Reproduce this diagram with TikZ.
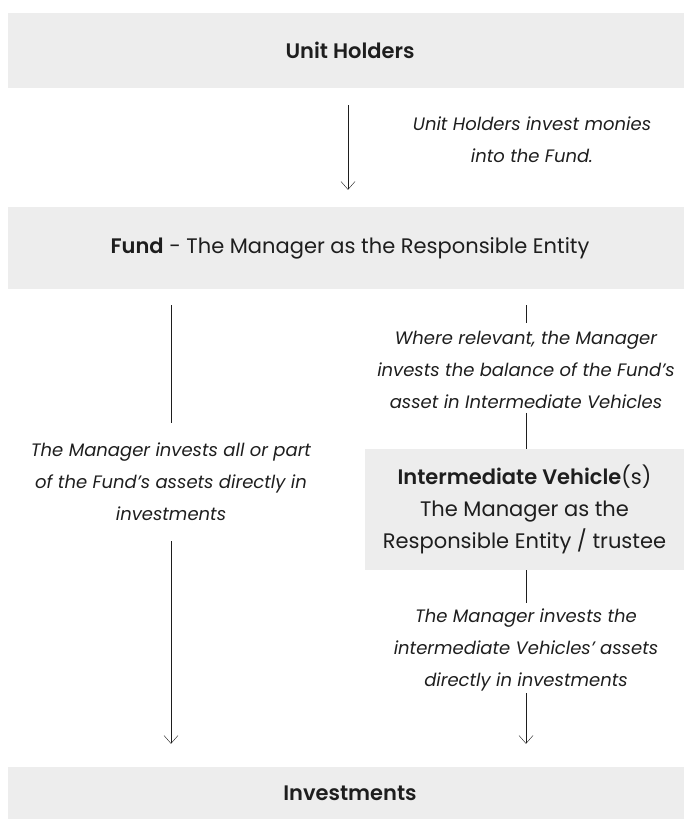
\documentclass[tikz,border=0pt]{standalone}
\usepackage{fontspec}
\setmainfont{Poppins}[BoldFont={Poppins SemiBold}]
\usetikzlibrary{arrows.meta}
\definecolor{boxgray}{HTML}{EDEDED}
\definecolor{ink}{HTML}{1E1E1E}

\begin{document}
\begin{tikzpicture}[x=1pt, y=-1pt, thin, draw=ink, text=ink,
  main/.style = {fill=boxgray, inner sep=0pt, align=center, font=\fontsize{21}{32}\selectfont},
  note/.style = {align=center, inner sep=0pt, font=\fontsize{18}{32}\selectfont\itshape},
  arr/.style = {-{Straight Barb[length=8pt,width=14pt]}}]
\useasboundingbox (0,0) rectangle (684,819);
\node[main, minimum width=684, minimum height=75] (1) at (350,50.5) {\textbf{Unit Holders}};
\node[main, minimum width=684, minimum height=82] (2) at (350,248) {\textbf{Fund} - The Manager as the Responsible Entity};
\node[note] (n1) at (532,140) {Unit Holders invest monies\\into the Fund.};
\node[note] (3) at (526,370) {Where relevant, the Manager\\invests the balance of the Fund's\\asset in Intermediate Vehicles};
\node[note] (4) at (171,482) {The Manager invests all or part\\of the Fund's assets directly in\\investments};
\node[main, minimum width=319, minimum height=121] (5) at (524.5,509.5) {\textbf{Intermediate Vehicle}(s)\\The Manager as the\\Responsible Entity / trustee};
\node[note] (6) at (526,650) {The Manager invests the\\intermediate Vehicles' assets\\directly in investments};
\node[main, minimum width=684, minimum height=52] (7) at (350,793) {\textbf{Investments}};
\draw[arr, shorten <=17pt, shorten >=17pt] ([xshift=-2pt]1.south) -- ([xshift=-2pt]2.north);
% direct route
\draw[shorten <=16pt, shorten >=20pt] (4 |- 2.south) -- (4);
\draw[arr, shorten <=20pt, shorten >=23pt] (4) -- (4 |- 7.north);
% through the vehicles
\draw[shorten <=16pt, shorten >=8pt] (3 |- 2.south) -- (3);
\draw[shorten <=4pt] (3) -- (3 |- 5.north);
\draw[shorten >=6pt] (3 |- 5.south) -- (6);
\draw[arr, shorten <=2pt, shorten >=23pt] (6) -- (6 |- 7.north);
\end{tikzpicture}
\end{document}
